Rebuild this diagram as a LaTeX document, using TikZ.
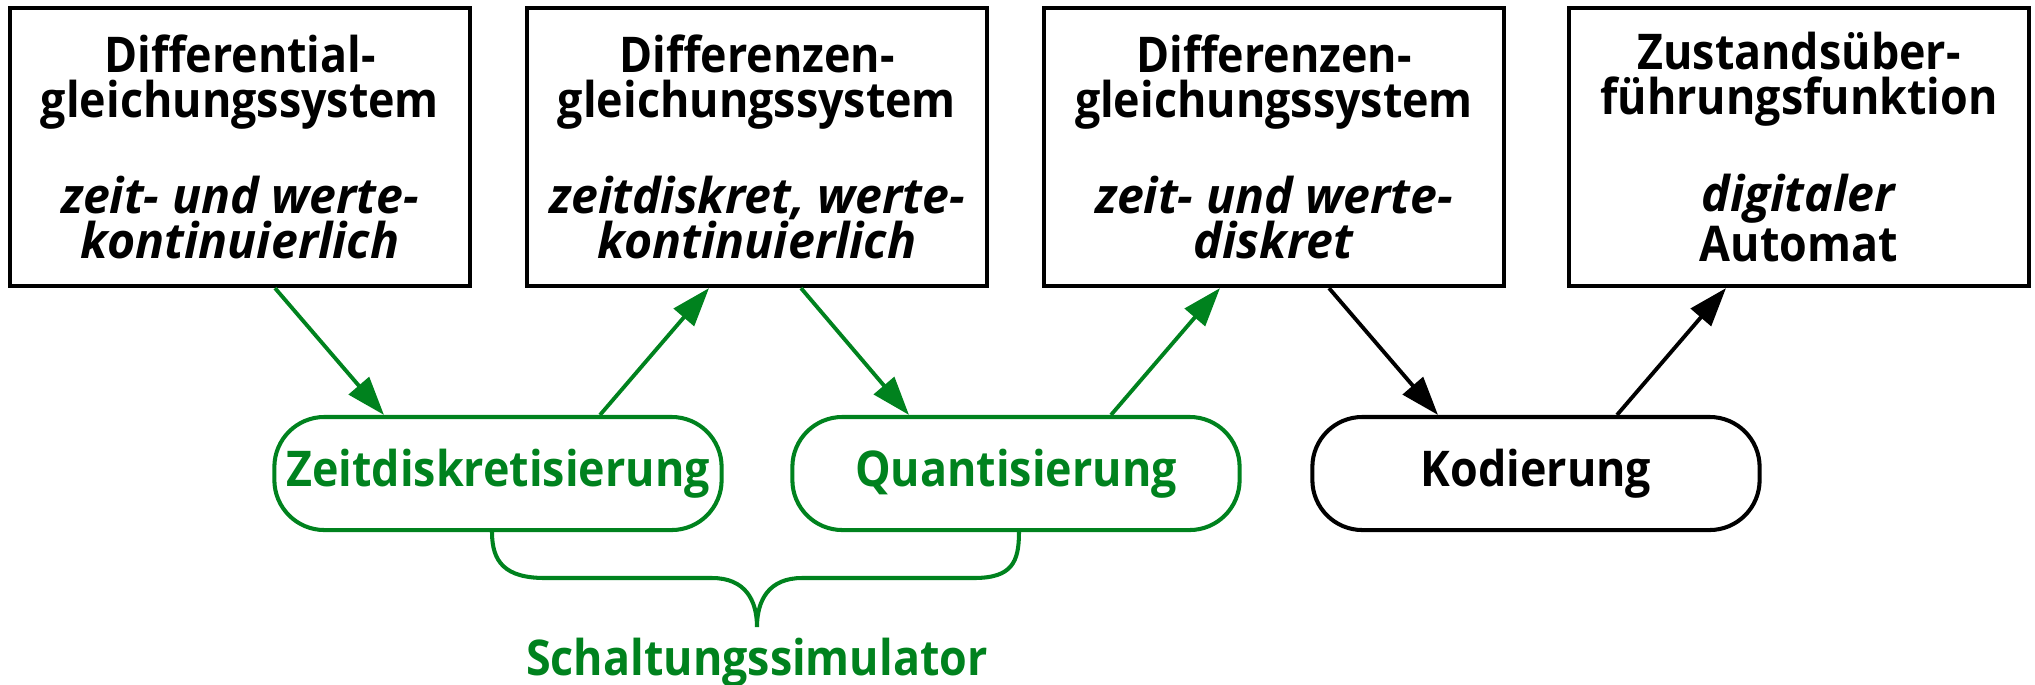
\documentclass[tikz,border=0pt]{standalone}
\usepackage{fontspec}
\setmainfont{Open Sans}[FakeStretch=0.91,BoldItalicFeatures={FakeStretch=0.98},ItalicFeatures={FakeStretch=0.98}]
\usetikzlibrary{arrows.meta,calc}
\definecolor{simgreen}{RGB}{0,130,30}
\begin{document}
\begin{tikzpicture}[x=0.01cm,y=-0.01cm,
  every node/.style={font=\fontsize{14pt}{12.8pt}\selectfont\bfseries},
  sysbox/.style={draw, line width=1.15pt, minimum width=4.6cm, minimum height=2.78cm, align=center, inner sep=0pt},
  procbox/.style={draw, line width=1.15pt, rounded corners=0.5cm, minimum width=4.47cm, minimum height=1.13cm, align=center},
  arr/.style={line width=1.1pt, -{Triangle[length=11pt,width=7.5pt]}},
  brace/.style={line width=1.15pt, simgreen}]
\useasboundingbox (0,0) rectangle (2035,684);
% system boxes
\node[sysbox] (d1) at (240,147) {Differential-\\gleichungssystem\\[12.5pt]\textit{zeit- und werte-}\\\textit{kontinuierlich}};
\node[sysbox] (d2) at (757,147) {Differenzen-\\gleichungssystem\\[12.5pt]\textit{zeitdiskret, werte-}\\\textit{kontinuierlich}};
\node[sysbox] (d3) at (1274,147) {Differenzen-\\gleichungssystem\\[12.5pt]\textit{zeit- und werte-}\\\textit{diskret}};
\node[sysbox] (d4) at (1799,147) {Zustands\"uber-\\f\"uhrungsfunktion\\[12.5pt]\textit{digitaler}\\Automat};
% process boxes
\node[procbox, draw=simgreen, text=simgreen] (z) at (498,473.5) {Zeitdiskretisierung};
\node[procbox, draw=simgreen, text=simgreen] (q) at (1016,473.5) {Quantisierung};
\node[procbox] (k) at (1536,473.5) {Kodierung};
% arrows
\draw[arr, simgreen] ($(d1.south)+(35,0)$) -- ($(z.north)+(-114,0)$);
\draw[arr, simgreen] ($(z.north)+(102,0)$) -- ($(d2.south)+(-48,0)$);
\draw[arr, simgreen] ($(d2.south)+(44,0)$) -- ($(q.north)+(-107,0)$);
\draw[arr, simgreen] ($(q.north)+(95,0)$) -- ($(d3.south)+(-54,0)$);
\draw[arr] ($(d3.south)+(55,0)$) -- ($(k.north)+(-98,0)$);
\draw[arr] ($(k.north)+(81,0)$) -- ($(d4.south)+(-73,0)$);
% brace
\coordinate (bl) at ($(z.south)+(-6,0)$);
\coordinate (br) at ($(q.south)+(3,0)$);
\coordinate (bt) at (757,627);
\draw[brace] (bl) .. controls (492,562) and (505,578) .. (545,578) -- (712,578)
  .. controls (745,578) and (757,600) .. (bt)
  .. controls (757,600) and (769,578) .. (802,578) -- (974,578)
  .. controls (1012,578) and (1019,562) .. (br);
\node[text=simgreen, anchor=base] (sim) at (757,675) {Schaltungssimulator};
\end{tikzpicture}
\end{document}
